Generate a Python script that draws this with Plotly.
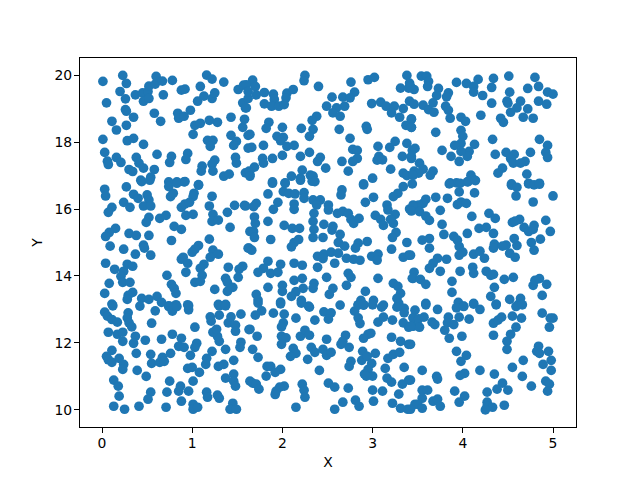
import plotly.graph_objects as go

top_left = [(.01,19.81),(.23,19.99),(.27,19.75),(.20,19.51),(.05,19.17),(.26,19.29),(.26,18.97),(.27,18.92),(.35,18.74),(.11,18.62),(.16,18.36),(.27,18.50),(.01,18.08),(.28,18.04),(.35,18.11),(.46,17.93),(.03,17.69),(.06,17.43),(.07,17.33),(.16,17.54),(.21,17.39),(.38,17.54),(.41,17.37),(.30,17.18),(.34,17.12),(.46,17.22),(.58,17.18),(.61,17.63),(.77,17.57),(.75,17.39),(.95,17.66),(.93,17.48),(1.11,17.28),(1.10,17.13),(1.25,17.46),(1.22,17.34),(1.23,17.13),(1.35,16.98),(1.41,17.04),(1.48,17.54),(1.49,17.37),(1.59,17.08),(1.64,17.03),(.54,16.95),(.43,16.86),(.74,16.81),(.83,16.81),(.91,16.81),(1.07,16.73),(.37,19.41),(.45,19.47),(.51,19.51),(.52,19.67),(.59,19.73),(.60,19.96),(.67,19.82),(.78,19.84),(.46,19.22),(.52,19.30),(.68,19.41),(.88,19.55),(.92,19.58),(1.09,19.66),(1.06,19.22),(1.13,19.37),(1.22,19.30),(1.25,19.47),(1.16,20.0),(1.22,19.88),(1.35,19.79),(1.51,19.57),(1.57,19.70),(1.56,19.17),(1.59,19.02),(1.62,19.3),(.58,18.86),(.65,18.62),(.84,18.86),(.85,18.71),(.91,18.77),(.98,18.95),(1.03,18.50),(1.09,18.56),(1.19,18.65),(1.28,18.59),(1.43,18.74),(1.58,18.68),(1.56,18.44),(1.01,18.23),(1.17,18.05),(1.23,18.05),(1.20,17.87),(1.43,18.20),(1.49,18.02),(1.46,17.90),(1.62,18.2),(1.62,17.82)]

top_middle = [(1.67,19.85),(1.60,19.71),(1.70,19.66),(1.62,19.51),(1.71,19.41),(1.80,19.48),(1.90,19.43),(1.91,19.27),(2.05,19.46),(2.12,19.57),(2.04,19.32),(1.80,19.14),(1.88,19.07),(1.96,19.07),(2.02,19.12),(1.60,19.02),(2.25,19.99),(2.24,19.83),(2.40,19.66),(2.76,19.79),(2.95,19.86),(3.02,19.93),(3.38,19.99),(3.41,19.76),(3.31,19.61),(3.40,19.61),(2.55,19.34),(2.67,19.34),(2.80,19.49),(2.75,19.32),(2.69,19.07),(2.49,19.07),(2.60,19.02),(2.56,18.87),(2.64,18.77),(2.99,19.15),(3.09,19.19),(3.15,19.07),(3.24,19.07),(3.21,18.87),(3.30,18.74),(3.34,19.0),(3.41,19.22),(3.43,18.69),(3.37,18.50),(3.43,18.44),(2.38,18.77),(2.33,18.65),(2.34,18.38),(2.30,18.17),(2.21,18.41),(1.85,18.59),(1.82,18.41),(2.0,18.44),(1.94,18.17),(2.01,18.14),(1.98,18.04),(1.64,18.23),(1.79,17.90),(1.66,17.84),(2.05,17.87),(2.13,17.90),(2.30,17.69),(2.20,17.57),(2.0,17.60),(1.89,17.51),(1.78,17.51),(1.79,17.37),(2.42,17.54),(2.39,17.42),(2.48,17.22),(2.63,18.38),(2.93,18.47),(2.94,18.38),(2.75,18.11),(2.66,17.42),(2.78,17.78),(2.83,17.75),(2.83,17.51),(2.78,17.42),(2.73,17.13),(3.06,17.87),(3.07,17.57),(3.05,17.46),(3.11,17.47),(3.19,17.84),(3.25,18.02),(3.33,17.57),(3.38,17.96),(3.44,17.75),(3.43,17.51),(3.20,17.19),(3.34,17.07),(3.38,17.0),(3.46,17.13),(2.22,17.16),(2.10,16.98),(2.20,16.92),(2.31,17.01),(2.34,16.98),(2.33,16.83),(3.0,16.92),(2.90,16.75),(1.69,17.25),(1.63,17.13),(1.64,16.98),(1.89,16.81),(2.03,16.78)]

top_right = [(3.54,19.97),(3.60,19.97),(3.62,19.81),(3.61,19.66),(3.46,19.57),(3.42,19.66),(3.73,19.60),(3.71,19.39),(3.84,19.47),(3.82,19.35),(3.93,19.78),(4.04,19.75),(4.12,19.66),(4.17,19.87),(4.12,19.49),(4.22,19.39),(4.34,19.90),(4.32,19.63),(4.32,19.16),(4.51,19.97),(4.52,19.49),(4.49,19.22),(4.50,19.16),(4.64,19.22),(4.60,19.02),(4.53,18.89),(4.72,19.60),(4.80,19.93),(4.84,19.66),(4.94,19.49),(5.0,19.43),(4.84,19.22),(4.93,19.13),(4.72,18.99),(4.67,18.74),(4.78,18.71),(3.46,19.13),(3.56,19.10),(3.62,18.97),(3.67,19.17),(3.68,18.89),(3.81,19.07),(3.84,18.95),(3.86,18.71),(3.98,18.74),(4.03,18.62),(4.20,18.80),(4.42,18.71),(4.45,18.59),(3.43,18.68),(3.43,18.44),(3.70,18.29),(3.98,18.35),(4.0,18.17),(3.98,17.96),(3.91,17.90),(3.77,17.75),(3.87,17.57),(4.13,17.93),(4.07,17.72),(4.05,17.57),(3.98,17.72),(3.96,17.42),(4.33,18.08),(4.36,17.63),(4.85,18.08),(4.94,17.90),(4.92,17.69),(4.94,17.54),(4.75,17.69),(4.48,17.69),(4.57,17.63),(4.53,17.51),(4.56,17.37),(4.69,17.42),(4.64,17.37),(4.44,17.22),(4.39,17.07),(4.71,17.04),(3.47,17.81),(3.43,17.57),(3.52,17.37),(3.56,17.19),(3.51,17.07),(3.45,17.01),(3.67,17.13),(3.64,17.01),(3.86,16.78),(3.93,16.78),(4.09,17.01),(4.12,16.88),(4.05,16.81),(4.54,16.75),(4.73,16.77),(4.85,16.77)]

mid_left = [(.03,16.59),(.04,16.39),(.11,16.05),(.07,15.90),(.27,16.66),(.24,16.20),(.31,16.05),(.35,16.44),(.40,16.32),(.50,16.42),(.52,16.27),(.46,16.09),(.54,16.09),(.52,15.75),(.49,15.60),(.64,15.72),(.71,15.81),(.80,15.48),(.88,15.39),(.15,15.42),(.08,15.30),(.04,15.18),(.30,15.27),(.38,15.21),(.52,15.21),(.09,14.89),(.24,14.80),(.46,14.92),(.47,14.83),(.37,14.65),(.54,14.62),(.77,15.06),(.04,14.38),(.14,14.20),(.28,14.35),(.34,14.29),(.24,14.14),(.21,13.99),(.23,13.81),(.31,13.81),(.08,13.78),(.03,13.48),(.34,13.51),(.29,13.42),(.28,13.30),(.11,13.16),(.44,13.33),(.52,13.30),(.61,13.39),(.66,13.21),(.74,13.11),(.82,13.14),(.96,13.11),(.72,14.02),(.77,13.75),(.80,13.63),(.82,13.48),(.76,16.37),(.79,16.47),(.74,16.67),(.83,16.77),(.92,16.82),(1.07,16.71),(1.02,16.47),(1.01,16.37),(1.22,16.38),(1.19,16.09),(.88,16.05),(.92,16.15),(.97,16.20),(.93,15.81),(1.01,15.84),(1.23,15.84),(1.22,15.63),(1.29,15.67),(1.39,15.90),(1.47,16.11),(1.58,16.11),(1.42,15.45),(1.19,15.10),(1.07,14.91),(1.03,14.80),(1.0,14.71),(1.23,14.77),(1.29,14.65),(1.2,14.56),(.88,14.50),(.90,14.56),(.95,14.38),(.93,14.11),(1.13,14.35),(1.09,14.23),(1.11,14.02),(1.03,13.81),(1.09,13.84),(1.25,13.60),(1.40,14.26),(1.56,14.29),(1.52,14.20),(1.51,13.96),(1.37,13.93),(1.39,13.81),(1.45,13.66),(1.39,13.54),(1.62,14.83),(1.29,13.15),(1.37,13.15),(1.64,15.33),(.44,16.82),(.53,16.86)]

mid_middle = [(1.89,16.77),(2.03,16.77),(2.01,16.52),(2.07,16.47),(2.14,16.45),(2.24,16.49),(2.24,16.32),(2.34,16.27),(2.42,16.27),(2.38,16.12),(2.51,16.12),(2.51,15.97),(1.84,16.45),(2.66,16.57),(2.65,16.42),(2.90,16.72),(2.92,16.20),(3.01,16.35),(2.36,16.82),(2.20,16.86),(1.95,16.20),(1.90,15.99),(1.71,16.17),(1.68,16.07),(1.59,16.09),(2.13,16.15),(2.13,15.99),(2.35,15.87),(2.34,15.63),(2.46,15.54),(2.56,15.48),(2.55,15.37),(2.64,15.24),(2.61,15.87),(2.67,15.93),(2.73,15.87),(2.76,15.69),(2.79,15.57),(2.85,15.72),(1.69,15.76),(1.70,15.57),(1.68,15.33),(1.69,15.15),(1.84,15.63),(2.02,15.51),(2.11,15.42),(2.19,15.42),(2.35,15.39),(2.34,15.15),(2.45,15.15),(1.87,15.09),(2.18,15.09),(2.13,15.0),(2.10,14.87),(2.62,15.0),(2.69,14.89),(2.84,14.98),(2.81,14.83),(2.94,15.03),(3.38,15.0),(3.21,14.80),(1.63,14.83),(1.66,14.77),(2.39,14.59),(2.46,14.65),(2.54,14.71),(2.45,14.52),(2.62,14.68),(2.71,14.53),(2.79,14.50),(2.86,14.47),(2.99,14.59),(3.06,14.65),(3.05,14.47),(3.34,14.56),(3.40,14.62),(1.84,14.44),(1.98,14.35),(2.13,14.38),(2.22,14.32),(2.58,14.38),(2.39,14.26),(1.79,14.23),(1.73,14.11),(1.87,14.08),(1.95,14.11),(2.22,13.93),(2.13,13.87),(2.49,13.96),(2.73,14.08),(2.76,13.96),(2.71,13.72),(3.06,13.93),(3.44,13.93),(2.35,13.78),(2.34,13.63),(2.56,13.63),(2.52,13.45),(2.23,13.63),(2.15,13.53),(2.10,13.39),(2.0,13.72),(2.0,13.54),(1.84,13.66),(1.71,13.45),(1.73,13.28),(1.98,13.22),(2.21,13.27),(2.92,13.54),(3.23,13.78),(3.28,13.69),(3.31,13.48),(3.27,13.33),(2.87,13.27),(3.01,13.27),(2.29,13.10),(2.84,13.13),(2.90,13.13),(3.29,13.18),(3.12,13.13),(3.34,16.67),(3.44,16.75),(3.28,16.47),(3.23,16.37),(3.16,16.12),(3.17,15.97),(3.03,15.81),(3.25,15.84),(3.09,15.69),(3.12,15.51),(3.23,15.57),(3.2,15.69),(3.26,15.30),(3.22,15.15),(3.41,16.0),(3.45,16.12)]

mid_right = [(3.85,16.75),(3.97,16.77),(4.06,16.82),(4.14,16.85),(3.96,16.51),(4.13,16.48),(3.70,16.35),(3.83,16.32),(3.59,16.29),(3.94,16.13),(3.98,16.21),(4.04,16.17),(3.75,15.96),(3.56,16.17),(3.51,16.12),(3.45,16.07),(3.43,15.94),(3.52,15.92),(3.59,15.79),(3.63,15.66),(4.10,15.78),(4.29,15.87),(4.36,15.72),(3.77,15.54),(3.79,15.24),(4.05,15.27),(4.18,15.42),(4.26,15.45),(4.34,15.27),(3.90,15.18),(3.94,15.07),(3.96,14.88),(4.0,14.71),(3.96,14.62),(4.12,14.65),(4.19,14.74),(4.24,14.53),(3.63,15.12),(3.55,15.07),(3.63,14.83),(4.35,14.95),(4.34,14.83),(4.48,14.92),(4.44,14.89),(4.52,14.68),(4.58,14.56),(4.60,14.91),(4.57,15.12),(4.55,15.60),(4.63,15.69),(4.58,15.64),(4.68,15.45),(4.73,15.33),(4.79,15.51),(4.78,15.39),(4.92,15.66),(4.97,15.33),(4.86,15.10),(4.76,15.0),(4.79,14.77),(4.54,16.71),(4.60,16.65),(4.59,16.39),(4.73,16.75),(4.79,16.72),(4.85,16.74),(4.78,16.21),(5.0,16.39),(3.82,14.50),(3.72,14.53),(3.67,14.38),(3.63,14.23),(3.75,14.14),(3.97,14.14),(4.11,14.26),(4.12,14.08),(4.26,14.14),(4.31,14.02),(4.34,14.05),(4.46,13.90),(4.56,13.96),(4.35,13.66),(4.31,13.39),(4.52,13.30),(4.64,13.33),(4.62,13.16),(4.78,13.72),(4.80,13.87),(4.85,13.92),(4.93,13.75),(4.88,13.42),(3.88,13.84),(3.88,13.51),(3.95,13.21),(4.12,13.18),(4.37,13.16),(4.01,13.1),(3.59,13.18),(3.46,14.11),(3.45,13.93),(3.53,13.90),(3.59,13.75),(3.42,14.62)]

low_left = [(.03,12.92),(.06,12.80),(.11,12.70),(.17,12.62),(.12,13.11),(.29,12.90),(.28,12.75),(.30,12.60),(.33,12.48),(.42,13.10),(.59,12.96),(.55,12.59),(.07,12.32),(.17,12.26),(.23,12.32),(.23,12.05),(.37,12.20),(.35,11.99),(.48,12.08),(.66,12.11),(.78,12.26),(.88,12.14),(.85,11.90),(.91,11.87),(1.03,12.47),(1.05,11.99),(1.03,11.87),(.11,11.78),(.05,11.60),(.07,11.50),(.11,11.42),(.19,11.54),(.24,11.36),(.23,11.21),(.38,11.69),(.54,11.66),(.55,11.39),(.64,11.42),(.67,11.57),(.69,11.45),(.76,11.69),(.98,11.63),(.39,11.18),(.49,11.0),(.95,11.24),(1.0,11.27),(1.08,11.12),(1.16,11.54),(1.15,11.36),(1.22,11.75),(1.01,10.86),(.75,10.86),(.87,10.71),(.85,10.56),(.96,10.56),(.72,10.53),(.54,10.53),(.51,10.32),(.88,10.26),(.13,10.89),(.18,10.71),(.19,10.41),(.13,10.11),(.25,10.02),(.41,10.11),(.71,10.08),(1.01,10.17),(1.01,10.02),(1.06,10.08),(1.16,10.53),(1.17,10.38),(1.28,10.44),(1.30,10.35),(1.45,10.2),(1.42,10.02),(1.49,10.02),(1.46,11.07),(1.37,10.95),(1.46,10.86),(1.48,10.71),(1.29,11.30),(1.35,11.36),(1.46,11.48),(1.37,11.81),(1.30,12.05),(1.28,12.2),(1.23,12.32),(1.27,12.41),(1.20,12.78),(1.21,12.65),(1.30,12.83),(1.40,12.60),(1.43,12.78),(1.48,12.53),(1.48,12.35),(1.54,12.86),(1.54,12.02),(1.53,11.87),(1.63,12.4),(1.64,10.86),(1.30,13.11),(1.37,13.11),(.96,12.99),(.95,13.14),(.74,13.09),(.78,12.95),(.83,13.09)]

low_middle = [(1.77,12.96),(1.70,12.83),(1.90,12.89),(2.02,12.86),(2.01,12.60),(1.99,12.48),(2.15,12.74),(2.30,13.07),(2.36,12.68),(2.46,12.93),(2.54,12.90),(2.51,12.71),(2.64,13.13),(1.64,12.41),(1.72,12.20),(1.99,12.20),(2.04,12.15),(1.99,11.96),(2.20,12.20),(2.25,12.38),(2.30,12.23),(2.49,12.11),(2.70,12.23),(2.65,11.96),(2.67,12.05),(2.74,11.87),(1.67,11.81),(1.73,11.57),(2.12,11.84),(2.15,11.69),(2.09,11.60),(2.32,11.87),(2.36,11.72),(2.28,11.51),(2.45,11.81),(2.49,11.63),(2.54,11.72),(1.83,11.30),(1.87,11.30),(1.98,11.21),(1.92,11.12),(1.82,11.01),(2.41,11.18),(2.76,11.45),(2.74,11.30),(1.67,10.80),(1.71,10.77),(1.74,10.62),(2.02,10.71),(1.97,10.68),(1.93,10.56),(1.92,10.46),(2.22,10.77),(2.24,10.59),(2.25,10.38),(2.15,10.08),(2.51,10.80),(2.58,10.68),(2.73,10.65),(2.67,10.23),(2.58,10.02),(2.81,10.29),(2.85,10.11),(2.89,11.75),(2.95,12.26),(2.98,12.29),(2.90,12.14),(2.88,11.48),(2.94,11.60),(3.03,11.69),(2.99,11.39),(2.95,11.21),(2.91,11.07),(3.0,11.01),(2.93,11.01),(3.17,11.54),(3.23,11.66),(3.30,11.72),(3.14,11.24),(3.35,11.27),(3.16,10.95),(3.21,10.83),(3.33,10.77),(3.40,10.89),(3.0,10.59),(3.11,10.56),(3.01,10.26),(3.29,10.47),(3.22,10.20),(3.31,10.05),(3.39,10.02),(3.47,10.17),(3.21,12.17),(3.31,12.05),(3.40,11.96),(2.80,12.95),(2.84,12.75),(2.86,12.58),(2.84,13.14),(2.90,13.14),(3.0,13.14),(3.10,13.07),(3.06,12.62),(3.12,12.77),(3.22,12.68),(3.27,13.07),(3.35,13.03),(3.34,12.60),(3.40,12.47),(3.45,12.75),(3.35,12.90),(3.45,12.5),(1.73,13.19),(1.98,13.17),(2.21,13.19)]

low_right = [(3.59,13.14),(3.47,12.98),(3.72,13.0),(3.45,12.75),(3.51,12.72),(3.57,12.77),(3.66,12.62),(3.69,12.55),(3.52,12.47),(3.42,12.5),(3.84,12.77),(3.83,12.60),(3.90,12.55),(3.80,12.38),(3.85,12.14),(3.96,12.77),(3.99,12.20),(4.07,12.71),(3.93,13.05),(4.01,13.09),(4.12,13.16),(4.19,13.0),(4.37,13.14),(4.59,13.09),(4.66,13.14),(4.34,12.59),(4.39,12.68),(4.43,12.77),(4.55,12.80),(4.65,12.74),(4.88,12.89),(5.0,12.74),(4.97,12.74),(4.96,12.47),(4.59,12.47),(4.34,12.23),(4.53,12.26),(4.49,12.05),(4.49,11.81),(3.42,11.96),(3.93,11.75),(4.04,11.63),(3.98,11.45),(4.84,11.90),(4.82,11.75),(4.85,11.69),(4.95,11.75),(4.98,11.48),(4.89,11.36),(4.98,11.18),(4.67,11.48),(4.55,11.27),(4.66,11.0),(4.19,11.18),(4.35,11.07),(4.02,11.09),(3.97,11.03),(3.55,11.18),(3.71,11.0),(3.72,10.92),(3.42,10.89),(4.76,10.71),(4.92,10.86),(4.96,10.77),(4.94,10.56),(4.44,10.80),(4.38,10.62),(4.50,10.59),(4.27,10.53),(3.91,10.56),(4.02,10.41),(3.96,10.23),(3.55,10.59),(3.61,10.59),(3.55,10.35),(3.50,10.17),(3.55,10.05),(3.42,10.02),(3.67,10.26),(3.72,10.32),(3.75,10.11),(4.27,10.23),(4.27,10.11),(4.33,10.08),(4.25,10.0),(4.46,10.14)]

regions = [top_left, top_middle, top_right, mid_left, mid_middle, mid_right, low_left, low_middle, low_right]
x_values = [p[0] for r in regions for p in r]
y_values = [p[1] for r in regions for p in r]

font = dict(family="DejaVu Sans", size=13.9, color="black")
fig = go.Figure(go.Scatter(x=x_values, y=y_values, mode="markers",
                           marker=dict(color="#1f77b4", size=9.7, line=dict(width=0)),
                           cliponaxis=False))
axis = dict(showgrid=False, zeroline=False, showline=True, mirror=True, linecolor="black",
            linewidth=1, ticks="outside", ticklen=5, tickwidth=1, tickcolor="black",
            tickfont=font, tick0=0)
fig.update_layout(
    width=632, height=472, autosize=False, showlegend=False,
    paper_bgcolor="white", plot_bgcolor="white",
    margin=dict(l=72, r=64, t=50, b=53, pad=0),
    xaxis=dict(axis, range=[-0.244, 5.255], dtick=1, ticklabelstandoff=-2,
               title=dict(text="X", font=font, standoff=7)),
    yaxis=dict(axis, range=[9.49, 20.51], dtick=2, ticklabelstandoff=-1,
               title=dict(text="Y", font=font, standoff=8)),
)
fig.write_html("out.html")
